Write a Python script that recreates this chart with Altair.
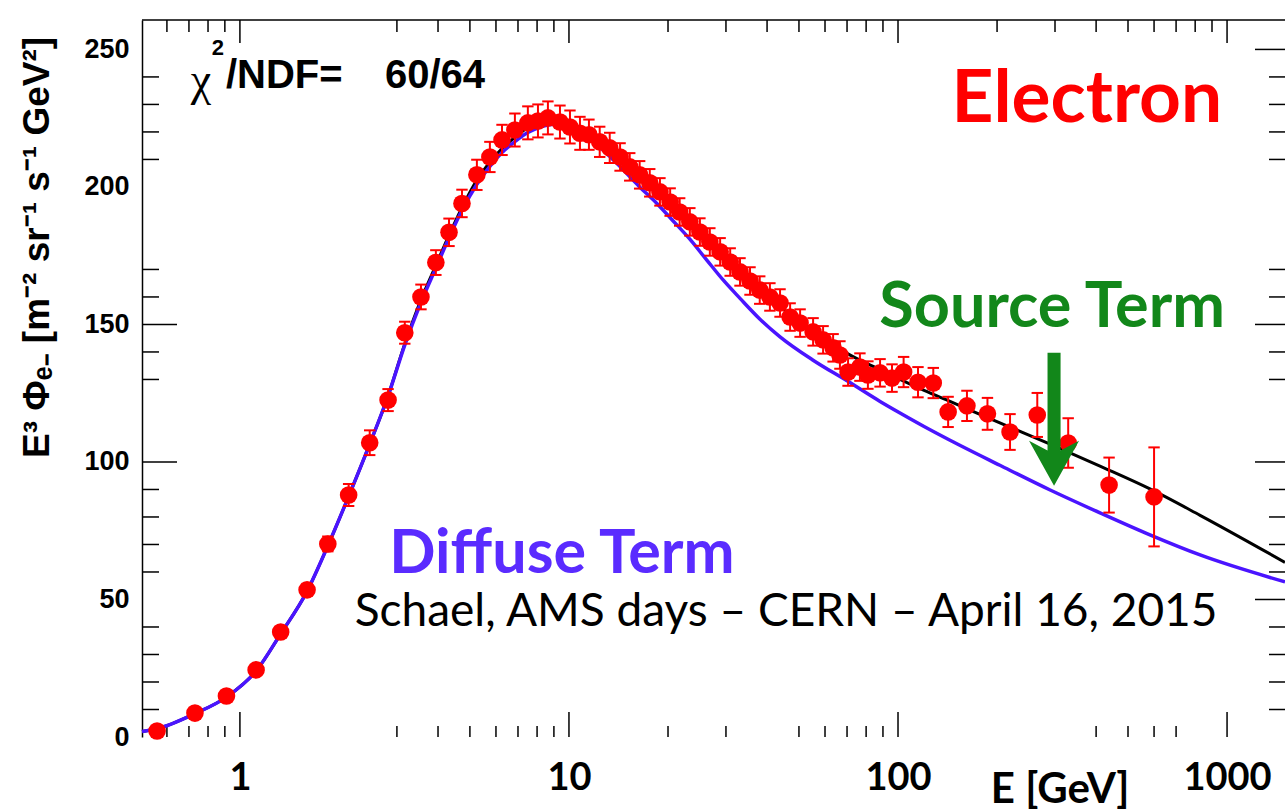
import altair as alt
import pandas as pd

W, H = 1143, 717

# ---- measured electron flux (E^3 * flux) ----
energy = [0.56, 0.73, 0.91, 1.12, 1.33, 1.60, 1.85, 2.14, 2.48, 2.82,
          3.17, 3.55, 3.94, 4.32, 4.73, 5.25, 5.75, 6.26, 6.85, 7.50,
          8.05, 8.63, 9.39, 10.07, 10.8, 11.5, 12.4, 13.3, 14.3, 15.3,
          16.4, 17.6, 18.9, 20.3, 21.7, 23.3, 25.0, 26.8, 28.8, 30.9,
          33.1, 35.5, 38.0, 40.8, 43.8, 47.0, 50.4, 55.2, 59.2, 63.5,
          66.6, 70.5, 76.6, 81.0, 88.2, 95.9, 104, 115, 128, 142,
          162, 187, 219, 265, 329, 438, 600]
flux = [2.2, 8.7, 14.9, 24.4, 38.2, 53.5, 70.2, 88.0, 107.0, 122.5,
        147.0, 160.0, 172.5, 183.5, 194.0, 204.4, 210.9, 217.1, 220.7, 223.3,
        224.0, 225.1, 223.6, 221.8, 219.5, 219.0, 216.4, 214.2, 210.9, 207.3,
        204.4, 201.5, 198.2, 194.5, 190.9, 187.3, 183.6, 180.0, 176.4, 172.7,
        169.1, 165.8, 162.5, 160.0, 157.8, 152.7, 150.5, 147.3, 144.4, 141.5,
        138.9, 132.7, 134.5, 131.6, 132.4, 130.5, 132.7, 129.0, 128.7, 118.2,
        120.4, 117.5, 110.9, 117.1, 106.9, 91.6, 87.3]
flux_err = [0.5, 0.7, 1.0, 1.3, 1.8, 2.2, 2.7, 4.0, 4.5, 4.0,
            4.0, 4.5, 4.5, 5.0, 5.0, 5.5, 5.5, 5.5, 6.0, 6.0,
            6.0, 6.0, 6.0, 6.0, 6.0, 5.5, 5.5, 5.5, 5.0, 5.0,
            5.0, 5.0, 5.0, 5.0, 5.0, 5.0, 5.0, 5.0, 5.0, 5.0,
            5.0, 5.0, 5.0, 5.0, 5.0, 5.0, 5.0, 5.0, 5.0, 5.0,
            5.0, 5.0, 5.0, 5.0, 5.0, 5.0, 5.5, 5.5, 5.5, 5.5,
            5.5, 5.8, 6.5, 8.0, 9.0, 10.0, 18.0]

# ---- fit curves ----
fit_energy = [0.504, 0.56, 0.73, 0.91, 1.12, 1.33, 1.60, 1.85, 2.14, 2.48,
              2.82, 3.17, 3.55, 3.94, 4.32, 4.73, 5.25, 5.75, 6.26, 6.85,
              7.5, 8.2, 9.0, 10.0, 11.0, 12.4, 14.0, 16.4, 18.5, 20.6,
              23.3, 26.2, 29.5, 33.1, 38.0, 43.8, 55.2, 70.0, 88.2, 101.4,
              120, 143.9, 204, 290, 411, 583, 828, 1500]
diffuse_term = [2.0, 3.0, 8.5, 14.5, 24.0, 37.5, 53.0, 69.5, 87.5, 106.5,
                124.0, 142.5, 158.0, 170.5, 181.5, 191.5, 201.0, 207.5, 212.5, 216.5,
                219.8, 221.8, 222.8, 221.5, 219.0, 214.5, 208.5, 200.0, 194.0, 188.0,
                181.0, 173.5, 166.0, 159.5, 152.0, 145.5, 137.0, 129.5, 122.0, 117.8,
                112.9, 107.9, 98.8, 89.8, 81.5, 73.5, 66.2, 56.4]
total_fit = [2.0, 3.0, 8.5, 14.5, 24.0, 37.5, 53.0, 69.5, 87.5, 106.5,
             124.0, 143.0, 159.0, 171.5, 182.5, 192.5, 202.5, 209.0, 214.0, 218.0,
             221.5, 223.3, 223.8, 222.2, 219.8, 216.5, 212.0, 205.0, 199.5, 194.0,
             187.5, 180.5, 174.5, 169.0, 162.5, 156.5, 147.5, 139.5, 133.5, 130.0,
             126.0, 122.0, 114.2, 106.5, 98.5, 90.2, 80.6, 63.5]

# ---- axis ticks / labels ----
x_labels = [1, 10, 100, 1000]
x_minor_bottom = [0.6, 0.7, 0.8, 0.9, 3, 4, 5, 6, 7, 8, 9,
                  20, 30, 50, 60, 70, 80, 90, 400, 500, 600, 700]
x_minor_top = [0.6, 0.7, 0.8, 0.9, 3, 4, 5, 6, 7, 8, 9,
               20, 30, 40, 50, 60, 70, 80, 90,
               200, 300, 400, 500, 600, 700, 800, 900]
y_labels = [0, 50, 100, 150, 200, 250]
y_major_left = [100, 150]
y_minor_left = [10, 20, 30, 40, 60, 70, 80, 90, 130, 140, 160, 170,
                210, 220, 230, 240]
y_major_right = [50, 100, 150, 250]
y_minor_right = [10, 20, 30, 40, 60, 70, 80, 90, 130, 140, 160, 170,
                 210, 220, 230, 240]

xs = alt.Scale(type="log", domain=[0.504, 1500], nice=False)
ys = alt.Scale(domain=[0, 260.7], nice=False, zero=False)

X_AX = alt.Axis(values=x_labels, format="d", ticks=False, tickSize=0, grid=False,
                domain=False, labelFont="Lato", labelFontWeight="bold",
                labelFontSize=38, labelPadding=22, labelColor="black",
                labelFlush=False, labelOverlap=False, title=None)
Y_AX = alt.Axis(values=y_labels, format="d", ticks=False, tickSize=0, grid=False,
                domain=True, domainColor="black", domainWidth=1.5,
                labelFont="Liberation Sans", labelFontWeight="bold",
                labelFontSize=27, labelPadding=13, labelColor="black", title=None)


def X(field, **kw):
    return alt.X(field, scale=xs, axis=X_AX, **kw)


def Y(field, **kw):
    return alt.Y(field, scale=ys, axis=Y_AX, **kw)


pts = pd.DataFrame({
    "E": energy, "F": flux,
    "lo": [f - e for f, e in zip(flux, flux_err)],
    "hi": [f + e for f, e in zip(flux, flux_err)],
})
fit = pd.DataFrame({"E": fit_energy, "diffuse": diffuse_term, "total": total_fit})
one = pd.DataFrame({"a": [0]})

BLACK = "black"
RED = "#ff0000"
BLUE = "#4a14ff"
GREEN = "#12871a"


def yticks(vals, x0, x1):
    return alt.Chart(pd.DataFrame({"v": vals})).mark_rule(color=BLACK, strokeWidth=1.5).encode(
        y=Y("v:Q"), x=alt.value(x0), x2=alt.value(x1))


def xticks(vals, y0, y1):
    return alt.Chart(pd.DataFrame({"v": vals})).mark_rule(color=BLACK, strokeWidth=1.5).encode(
        x=X("v:Q"), y=alt.value(y0), y2=alt.value(y1))


tick_layers = [
    yticks(y_major_left, 0, 35), yticks(y_minor_left, 0, 17),
    yticks(y_major_right, W, W - 30), yticks(y_minor_right, W, W - 16),
    xticks(x_labels, H, H - 25), xticks(x_minor_bottom, H, H - 11),
    xticks(x_labels, 0, 23), xticks(x_minor_top, 0, 12),
]

top_frame = alt.Chart(one).mark_rule(color=BLACK, strokeWidth=1.5).encode(
    x=alt.value(0), x2=alt.value(W), y=alt.value(0))

total_line = alt.Chart(fit).mark_line(color=BLACK, strokeWidth=3, interpolate="monotone").encode(
    x=X("E:Q"), y=Y("total:Q"))
diffuse_line = alt.Chart(fit).mark_line(color=BLUE, strokeWidth=3.5, interpolate="monotone").encode(
    x=X("E:Q"), y=Y("diffuse:Q"))

err_bars = alt.Chart(pts).mark_rule(color=RED, strokeWidth=2).encode(
    x=X("E:Q"), y=Y("lo:Q"), y2="hi:Q")
cap_lo = alt.Chart(pts).mark_point(shape="stroke", size=130, strokeWidth=2, color=RED, opacity=1).encode(
    x=X("E:Q"), y=Y("lo:Q"))
cap_hi = alt.Chart(pts).mark_point(shape="stroke", size=130, strokeWidth=2, color=RED, opacity=1).encode(
    x=X("E:Q"), y=Y("hi:Q"))

points = alt.Chart(pts).mark_circle(size=310, color=RED, opacity=1).encode(
    x=X("E:Q"), y=Y("F:Q"))


def label(text, e, v, size, color=BLACK, weight="bold", font="Lato", align="center",
          baseline="middle", angle=0):
    return alt.Chart(one).mark_text(text=text, fontSize=size, fontWeight=weight, font=font,
                                    color=color, align=align, baseline=baseline, angle=angle).encode(
        x=alt.X(datum=e, scale=xs, axis=X_AX), y=alt.Y(datum=v, scale=ys, axis=Y_AX))


arrow_path = "M-0.098,-1L0.098,-1L0.098,0.47L0.376,0.32L0,1L-0.376,0.32L-0.098,0.47Z"
arrow = alt.Chart(one).mark_point(shape=arrow_path, filled=True, size=17700, color=GREEN,
                                  opacity=1, strokeWidth=0).encode(
    x=alt.X(datum=298, scale=xs, axis=X_AX), y=alt.Y(datum=115.5, scale=ys, axis=Y_AX))

texts = [
    label("Electron", 375, 231.6, 73, color=RED),
    label("Source Term", 294, 156, 63, color=GREEN),
    label("Diffuse Term", 9.52, 66.0, 61, color="#5a2bff"),
    label("Schael, AMS days \u2013 CERN \u2013 April 16, 2015", 45.7, 45.3, 46, weight="normal"),
    label("E [GeV]", 311, -19.3, 42),
    label("\u03c7", 0.761, 238.5, 46, weight="normal", font="Liberation Serif"),
    label("2", 0.857, 250.7, 22, font="Liberation Sans"),
    label("/NDF=", 0.907, 236, 40, font="Liberation Sans", align="left", baseline="alphabetic"),
    label("60/64", 2.76, 236, 40, font="Liberation Sans", align="left", baseline="alphabetic"),
    label("E\u00b3 \u03a6\u2091\u208b [m\u207b\u00b2 sr\u207b\u00b9 s\u207b\u00b9 GeV\u00b2]",
          0.243, 178.0, 37, font="Liberation Sans", angle=270),
]

chart = alt.layer(
    *tick_layers, top_frame, total_line, diffuse_line, err_bars, cap_lo, cap_hi, points,
    *texts, arrow
).properties(
    width=W, height=H,
    padding={"left": 142, "top": 20, "right": 0, "bottom": 75},
    autosize=alt.AutoSizeParams(type="none"),
    background="white",
).configure_view(stroke=None)

chart.save("out.html", embed_options={"renderer": "svg", "actions": False})
